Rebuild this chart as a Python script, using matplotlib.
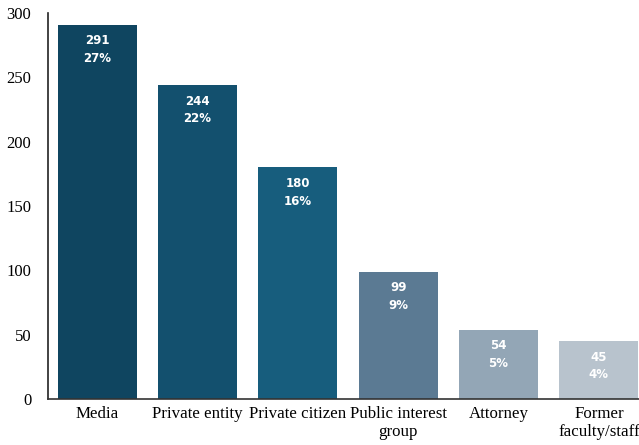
import matplotlib
matplotlib.use("Agg")
import matplotlib.pyplot as plt

categories = ["Media", "Private entity", "Private citizen", "Public interest\ngroup", "Attorney", "Former\nfaculty/staff"]
counts = [291, 244, 180, 99, 54, 45]
percents = ["27%", "22%", "16%", "9%", "5%", "4%"]
colors = ["#0f4560", "#13506e", "#175d7d", "#5b7a93", "#93a6b6", "#b8c3cd"]

fig = plt.figure(figsize=(6.39, 4.45), dpi=100)
ax = fig.add_axes([48/639, 46/445, 591/639, 386/445])
x = list(range(len(categories)))
bars = ax.bar(x, counts, width=0.79, color=colors)
for xi, c, p in zip(x, counts, percents):
    ax.annotate(f"{c}\n{p}", xy=(xi, c), xytext=(0, -7), textcoords="offset points",
                ha="center", va="top", color="white", fontsize=8.5, fontweight="bold",
                family="DejaVu Sans", linespacing=1.45)
ax.set_xlim(-0.49, 5.4)
ax.set_ylim(0, 300)
ax.set_yticks([0, 50, 100, 150, 200, 250, 300])
ax.set_xticks(x)
ax.set_xticklabels(categories, family="Liberation Serif", fontsize=12.2, linespacing=1.2)
for lab in ax.get_yticklabels():
    lab.set_family("Liberation Serif")
    lab.set_fontsize(12)
ax.tick_params(axis="both", length=0)
ax.tick_params(axis="y", pad=12)
ax.tick_params(axis="x", pad=5)
for s in ["top", "right"]:
    ax.spines[s].set_visible(False)
ax.spines["left"].set_color("#222222")
ax.spines["bottom"].set_color("#333333")
ax.spines["left"].set_linewidth(1.2)
ax.spines["bottom"].set_linewidth(1.2)
fig.savefig("out.png", dpi=100)
